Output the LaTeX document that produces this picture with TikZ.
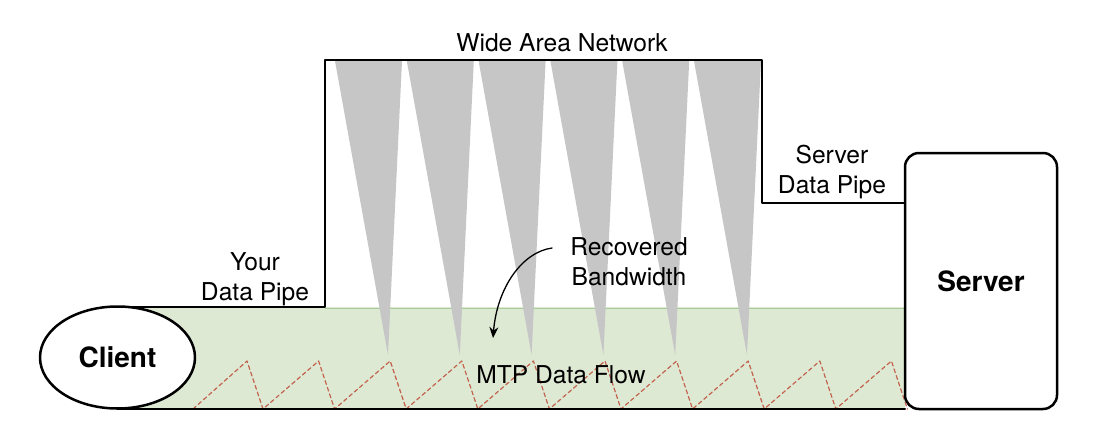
\documentclass[tikz,border=0pt]{standalone}
\usepackage{fontspec}
\setmainfont{TeX Gyre Heros}
\usetikzlibrary{shapes.geometric,arrows.meta}

\definecolor{flowgreen}{HTML}{DEE9D4}
\definecolor{flowedge}{HTML}{A8CC98}
\definecolor{wedgegray}{HTML}{C6C6C6}
\definecolor{sawred}{HTML}{C2634E}

\tikzset{
  pipe/.style={line width=2pt},
  lbl/.style={inner sep=0pt, align=center, font=\fontsize{24.6}{30}\selectfont},
  hostlbl/.style={draw, line width=2.5pt, fill=white, font=\fontsize{28}{34}\selectfont\bfseries},
  saw/.style={sawred, line width=1.2pt, dash pattern=on 4pt off 3pt},
}

\begin{document}
\begin{tikzpicture}[x=1pt, y=-1pt, line cap=round, line join=round]

  %% ════ flow band ════
  \fill[flowgreen] (117,307) rectangle (905,409);
  \draw[flowedge, line width=1pt] (325,308) -- (905,308);

  %% ════ wedges (lost bandwidth) ════
  \foreach \i in {0,...,5}
    \fill[wedgegray] ({335+71.8*\i},61) -- ({402+71.8*\i},61) -- ({388+71.8*\i},355) -- cycle;

  %% ════ sawtooth ════
  \draw[saw] (193,409) \foreach \k in {0,...,9} { -- ({247+71.6*\k},361) -- ({263+71.6*\k},409) };

  %% ════ pipe outline ════
  \draw[pipe] (117,307) -- (325,307) -- (325,60) -- (762,60) -- (762,203) -- (905,203);
  \draw[pipe] (117,409) -- (905,409);

  %% ════ hosts ════
  \node[hostlbl, ellipse, minimum width=155pt, minimum height=102pt] (client) at (117.5,357.5) {Client};
  \node[hostlbl, rectangle, rounded corners=14pt, minimum width=152pt, minimum height=256pt] (server) at (981,281) {Server};

  %% ════ labels ════
  \node[lbl] (wan) at (562,43) {Wide Area Network};
  \node[lbl] (yourpipe) at (255,279) {Your\\Data Pipe};
  \node[lbl] (serverpipe) at (832,172) {Server\\Data Pipe};
  \node[lbl] (recovered) at (629,262) {Recovered\\Bandwidth};
  \node[lbl] (mtpflow) at (561,375) {MTP Data Flow};

  %% ════ arrow ════
  \coordinate (dip) at (493,338);
  \draw[line width=1.3pt, -{Stealth[length=11pt,width=9pt]}]
    ([xshift=-18pt,yshift=14pt]recovered.west) .. controls +(-30,4) and +(4,-50) .. (dip);

  % fix the canvas
  \pgfresetboundingbox
  \path[use as bounding box] (0,0) rectangle (1096,431);
\end{tikzpicture}
\end{document}
